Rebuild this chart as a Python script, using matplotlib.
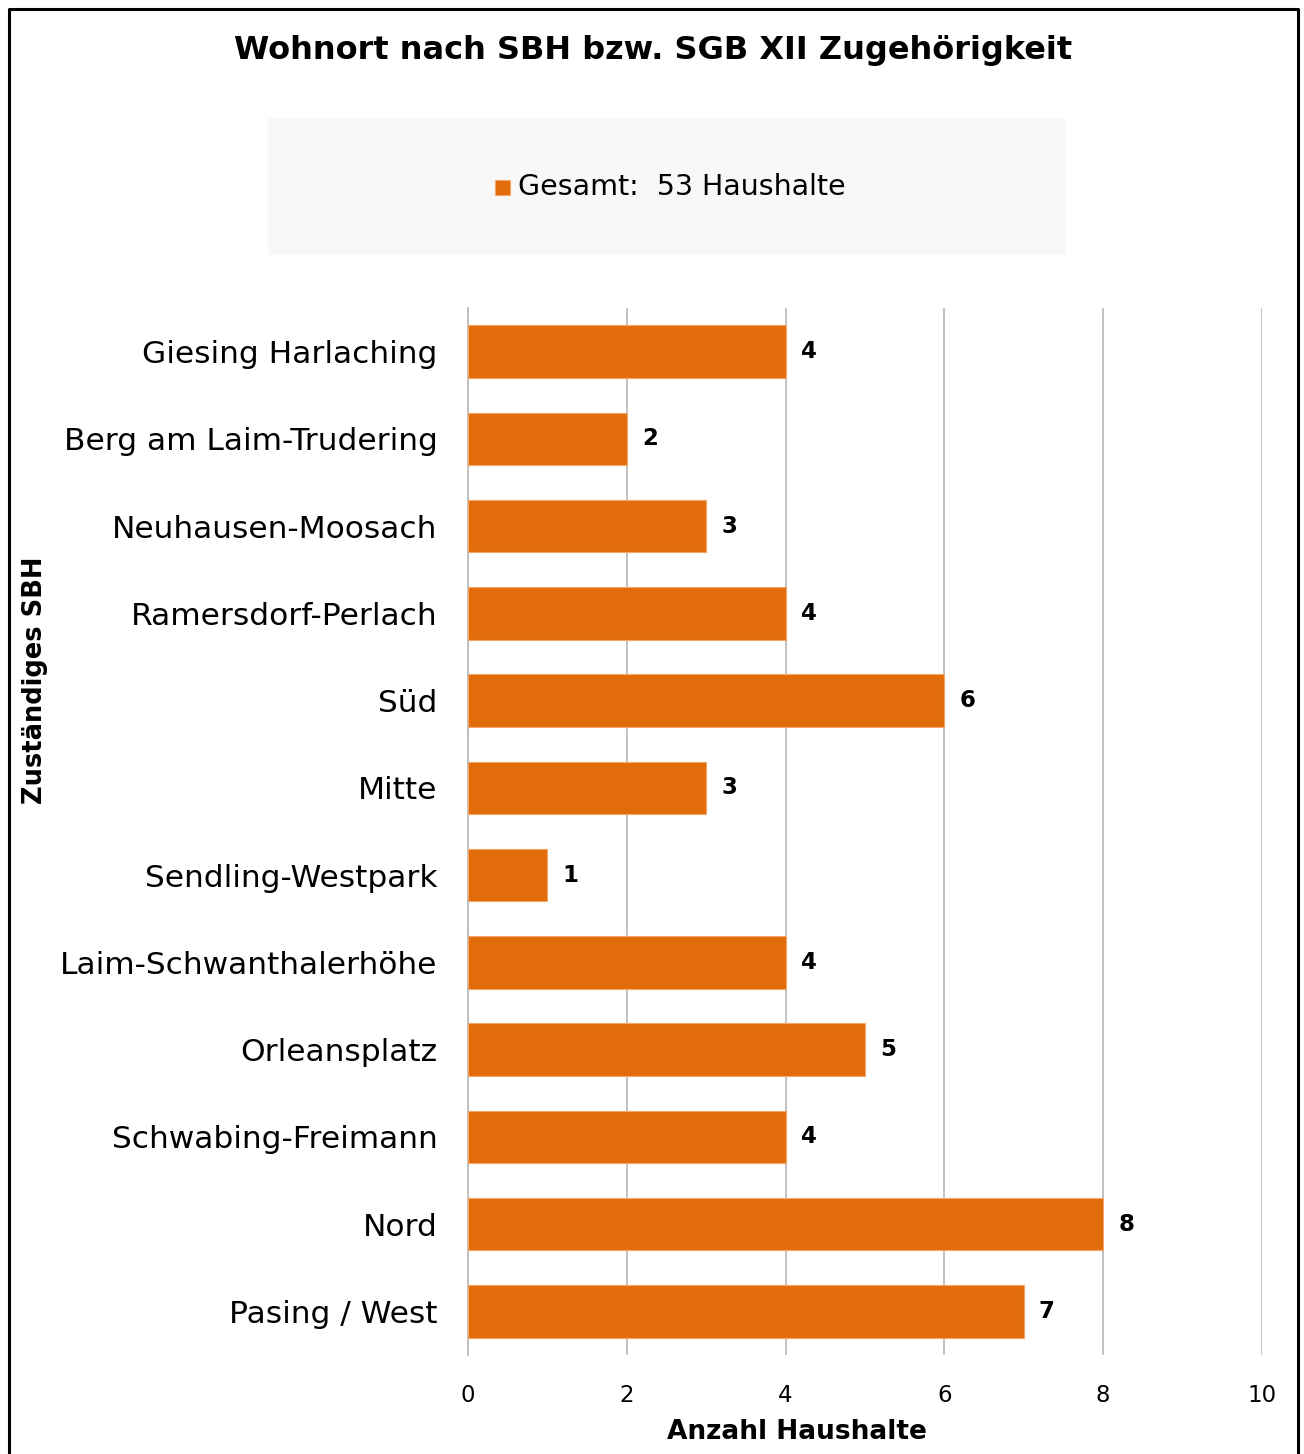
import matplotlib.pyplot as plt
from matplotlib.lines import Line2D
from matplotlib.patches import Rectangle

# Haushalte je zuständigem SBH
regionen = ['Giesing Harlaching', 'Berg am Laim-Trudering', 'Neuhausen-Moosach',
            'Ramersdorf-Perlach', 'Süd', 'Mitte', 'Sendling-Westpark',
            'Laim-Schwanthalerhöhe', 'Orleansplatz', 'Schwabing-Freimann',
            'Nord', 'Pasing / West']
haushalte = [4, 2, 3, 4, 6, 3, 1, 4, 5, 4, 8, 7]
x_ticks = [0, 2, 4, 6, 8, 10]

orange = '#E36C0A'
W, H = 1304, 1454

plt.rcParams['font.family'] = ['DejaVu Sans']

fig = plt.figure(figsize=(W / 100, H / 100), dpi=100)

# axes area in pixels
left, right, top, bottom = 468, 1262, 308, 1355
ax = fig.add_axes([left / W, 1 - bottom / H, (right - left) / W, (bottom - top) / H])

pos = list(range(len(regionen)))
ax.barh(pos, haushalte, height=0.6, color=orange, edgecolor='#F3A56A',
        linewidth=0.8, zorder=3)
for y, v in zip(pos, haushalte):
    ax.text(v + 0.19, y, str(v), va='center', ha='left', fontsize=16.5,
            fontweight='bold', color='black')

ax.set_ylim(len(regionen) - 0.5, -0.5)
ax.set_xlim(0, 10)
ax.set_yticks(pos)
ax.set_yticklabels(regionen, fontsize=22.5)
ax.set_xticks(x_ticks)
ax.set_xticklabels([str(t) for t in x_ticks], fontsize=16.5)
ax.tick_params(axis='y', length=0, pad=22)
ax.tick_params(axis='x', length=0, pad=21)
ax.grid(axis='x', color='#BDBDBD', linewidth=1.3, zorder=0)
for s in ['top', 'right', 'bottom']:
    ax.spines[s].set_visible(False)
ax.spines['left'].set_color('#BDBDBD')
ax.spines['left'].set_linewidth(1.3)

# title and axis titles
fig.text(653 / W, 1 - 50 / H, 'Wohnort nach SBH bzw. SGB XII Zugehörigkeit',
         ha='center', va='center', fontsize=23, fontweight='bold')
fig.text(797 / W, 1 - 1432 / H, 'Anzahl Haushalte', ha='center', va='center',
         fontsize=19, fontweight='bold')
fig.text(35 / W, 1 - 680 / H, 'Zuständiges SBH', ha='center', va='center',
         rotation=90, fontsize=18.5, fontweight='bold')

# legend box
fig.patches.append(Rectangle((268 / W, 1 - 255 / H), (1066 - 268) / W, (255 - 118) / H,
                             transform=fig.transFigure, facecolor='#F8F8F8',
                             edgecolor='none', zorder=0))
fig.patches.append(Rectangle((495 / W, 1 - 195 / H), 15 / W, 15 / H,
                             transform=fig.transFigure, facecolor=orange,
                             edgecolor='#F3A56A', linewidth=0.8))
fig.text(518 / W, 1 - 187 / H, 'Gesamt:  53 Haushalte', ha='left', va='center',
         fontsize=20.5)

# outer frame (open at the bottom)
fx0, fx1, fy0 = 8.5 / W, 1297.5 / W, 1 - 8.5 / H
fig.lines.append(Line2D([fx0, fx0, fx1, fx1], [0, fy0, fy0, 0],
                        transform=fig.transFigure, color='black', linewidth=2.2))

fig.savefig('out.png', dpi=100)
